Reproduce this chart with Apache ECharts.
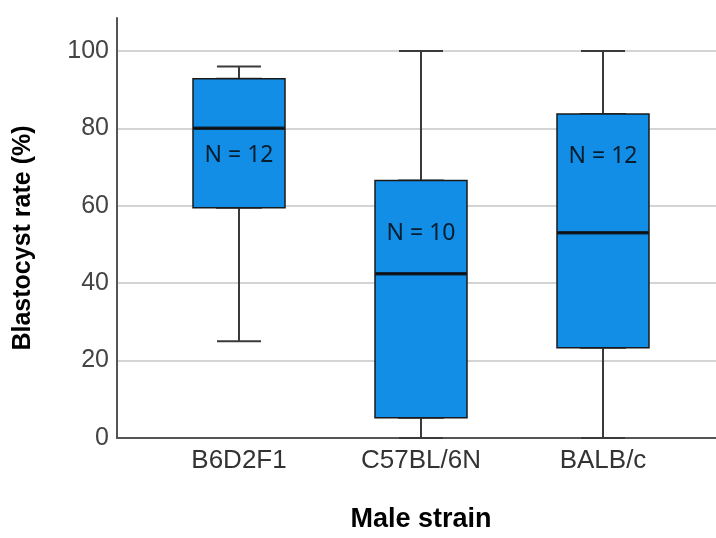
<!DOCTYPE html>
<html>
<head>
<meta charset="utf-8">
<script src="https://cdn.jsdelivr.net/npm/echarts@6/dist/echarts.min.js"></script>
<style>html,body{margin:0;padding:0;background:#fff;}#chart{width:716px;height:538px;}</style>
</head>
<body>
<div id="chart"></div>
<script>
const categories = ['B6D2F1', 'C57BL/6N', 'BALB/c'];
const whiskerMin = [25, 0, 0];
const q1 = [59.5, 5.2, 23.3];
const median = [80.0, 42.4, 53.0];
const q3 = [92.8, 66.5, 83.7];
const whiskerMax = [96, 100, 100];
const nCounts = [12, 10, 12];
const nLabelY = [72.9, 52.8, 72.7];
const yTicks = [0, 20, 40, 60, 80, 100];
const xTitle = 'Male strain';
const yTitle = 'Blastocyst rate (%)';

const FONT = '"Liberation Sans", Arial, sans-serif';
const Y_MAX = 108.5;

const chart = echarts.init(document.getElementById('chart'), null, {renderer: 'canvas'});

const whiskerData = categories.map((c, i) => [whiskerMin[i], q1[i], median[i], q3[i], whiskerMax[i]]);
const boxData = categories.map((c, i) => [q1[i], q1[i], median[i], q3[i], q3[i]]);

const option = {
  backgroundColor: '#fff',
  animation: false,
  grid: [
    {left: 117, right: 0, top: 18, bottom: 100},
    {left: 148, right: 22, top: 18, bottom: 100}
  ],
  xAxis: [
    {gridIndex: 0, type: 'value', min: 0, max: 1,
     axisLine: {show: true, onZero: false, lineStyle: {color: '#555', width: 2}},
     axisTick: {show: false}, axisLabel: {show: false}, splitLine: {show: false}},
    {gridIndex: 1, type: 'category', data: categories,
     axisLine: {show: false}, axisTick: {show: false}, splitLine: {show: false},
     axisLabel: {fontSize: 26, color: '#333', margin: 10, fontFamily: FONT}},
    {gridIndex: 1, type: 'category', data: categories, show: false}
  ],
  yAxis: [
    {gridIndex: 0, type: 'value', min: 0, max: Y_MAX, interval: 20,
     axisLine: {show: true, lineStyle: {color: '#555', width: 2}},
     axisTick: {show: false},
     axisLabel: {fontSize: 25, color: '#444', margin: 8, fontFamily: FONT,
                 formatter: v => yTicks.includes(v) ? String(v) : ''},
     splitLine: {show: true, showMaxLine: false, showMinLine: false,
                 lineStyle: {color: '#d4d4d4', width: 2}}},
    {gridIndex: 1, type: 'value', min: 0, max: Y_MAX, show: false}
  ],
  series: [
    {
      type: 'boxplot', xAxisIndex: 2, yAxisIndex: 1,
      data: whiskerData, boxWidth: [44, 44],
      itemStyle: {color: 'rgba(0,0,0,0)', borderColor: '#3a3a3a', borderWidth: 2},
      silent: true
    },
    {
      type: 'boxplot', xAxisIndex: 1, yAxisIndex: 1,
      data: boxData, boxWidth: [92, 92],
      itemStyle: {color: '#138ee6', borderColor: '#1a1a1a', borderWidth: 1.5},
      silent: true
    },
    {
      type: 'scatter', xAxisIndex: 1, yAxisIndex: 1,
      data: median, symbol: 'rect', symbolSize: [91, 3.5],
      itemStyle: {color: '#0d0d0d'}, silent: true, z: 5
    },
    {
      type: 'scatter', xAxisIndex: 1, yAxisIndex: 1,
      data: nLabelY, symbolSize: 0, silent: true, z: 6,
      label: {show: true, position: 'inside', fontSize: 23, color: '#000',
              fontFamily: '"Noto Sans", "Open Sans", sans-serif',
              formatter: p => 'N = ' + nCounts[p.dataIndex]}
    }
  ],
  graphic: [
    {type: 'text', x: 421, y: 520, silent: true,
     style: {text: xTitle, font: 'bold 27px ' + FONT, fill: '#000',
             align: 'center', verticalAlign: 'middle', textAlign: 'center', textVerticalAlign: 'middle'}},
    {type: 'text', x: 23, y: 238, rotation: Math.PI / 2, silent: true,
     style: {text: yTitle, font: 'bold 25px ' + FONT, fill: '#000',
             align: 'center', verticalAlign: 'middle', textAlign: 'center', textVerticalAlign: 'middle'}}
  ]
};
chart.setOption(option);
</script>
</body>
</html>
